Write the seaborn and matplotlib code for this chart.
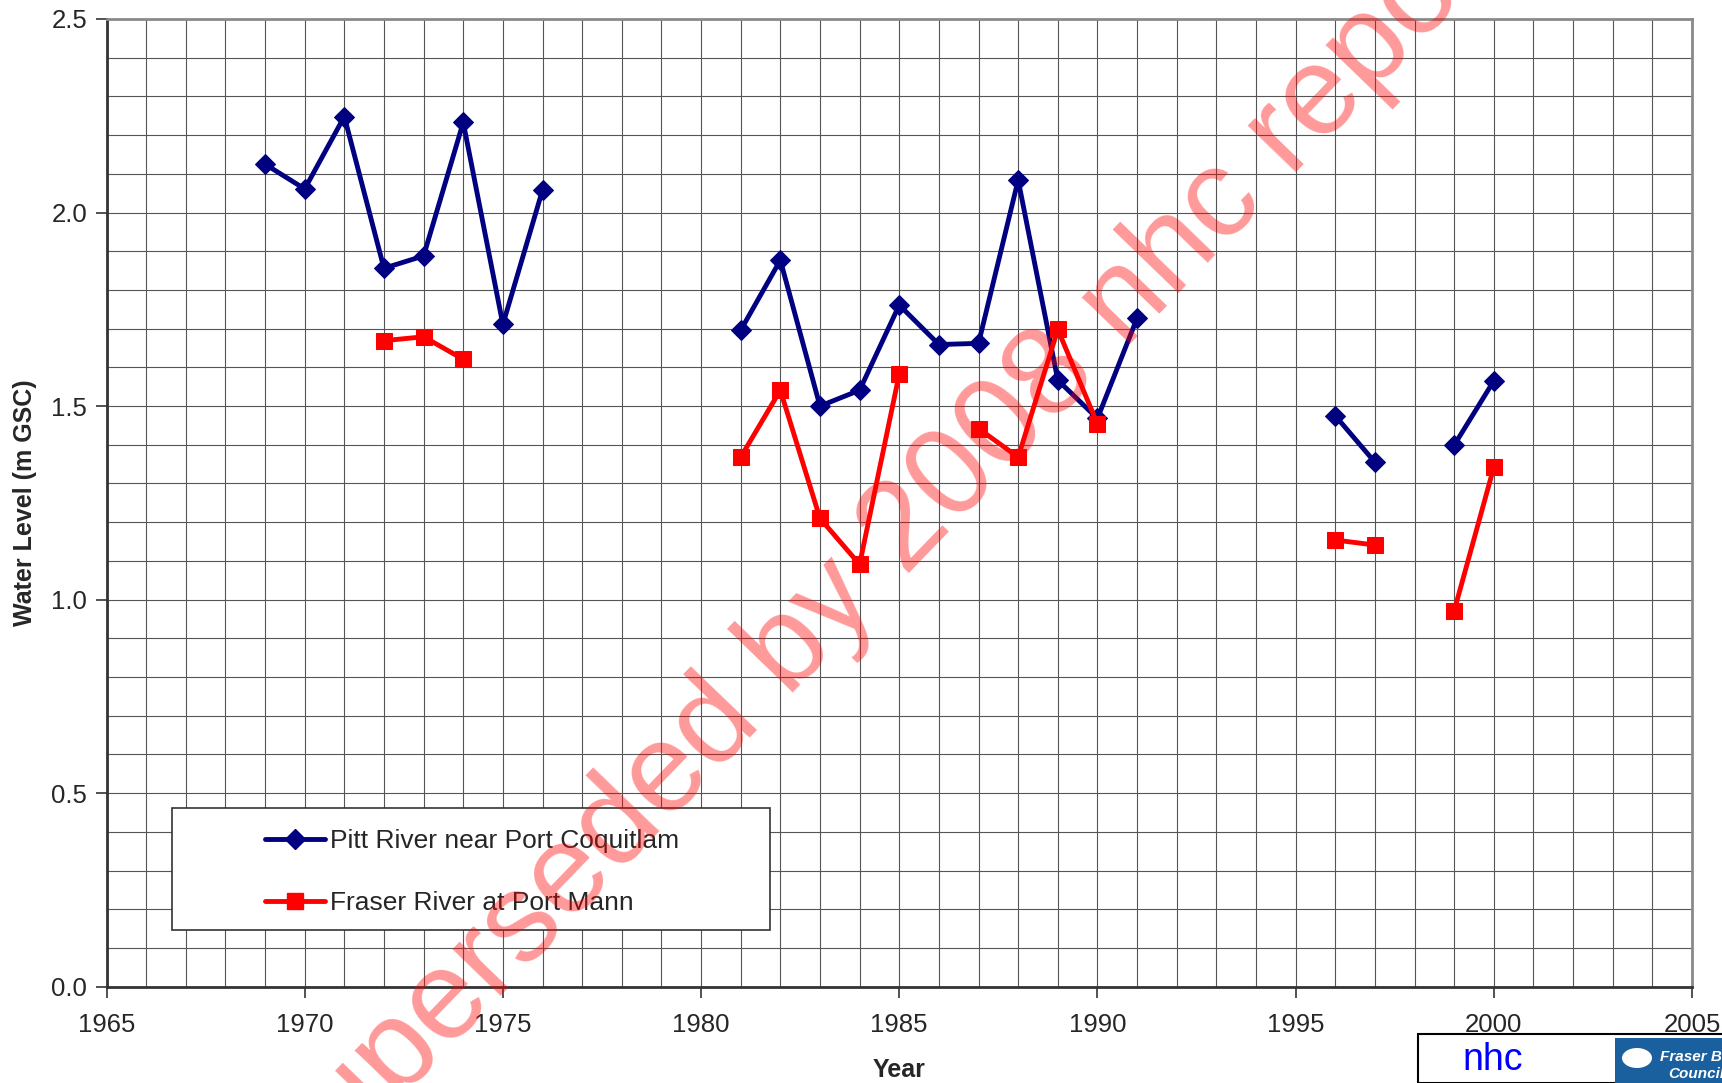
import numpy as np
import pandas as pd
import matplotlib
matplotlib.use("Agg")
import matplotlib.pyplot as plt
import seaborn as sns
from matplotlib.lines import Line2D
from matplotlib.patches import Rectangle, Ellipse
from matplotlib.ticker import MultipleLocator

nan = np.nan
years = list(range(1969, 2001))
pitt = [2.125, 2.061, 2.248, 1.856, 1.888, 2.233, 1.711, 2.058,
        nan, nan, nan, nan,
        1.696, 1.877, 1.500, 1.541, 1.761, 1.659, 1.662, 2.084, 1.567, 1.468, 1.727,
        nan, nan, nan, nan,
        1.475, 1.355, nan, 1.399, 1.565]
fraser = [nan, nan, nan, 1.669, 1.679, 1.621, nan, nan,
          nan, nan, nan, nan,
          1.368, 1.541, 1.210, 1.091, 1.583, nan, 1.442, 1.368, 1.698, 1.454, nan,
          nan, nan, nan, nan,
          1.154, 1.141, nan, 0.971, 1.342]
series_names = ["Pitt River near Port Coquitlam", "Fraser River at Port Mann"]
x_label = "Year"
y_label = "Water Level (m GSC)"
watermark = "Superseded by 2008 nhc report"


def to_long(name, vals):
    rows = []
    seg = 0
    prev_nan = True
    for yr, v in zip(years, vals):
        if np.isnan(v):
            prev_nan = True
            continue
        if prev_nan:
            seg += 1
        prev_nan = False
        rows.append({"Year": yr, "Level": v, "series": name, "seg": f"{name}-{seg}"})
    return pd.DataFrame(rows)


df = pd.concat([to_long(series_names[0], pitt), to_long(series_names[1], fraser)],
               ignore_index=True)

sns.set_style("white")
plt.rcParams["font.family"] = ["Liberation Sans", "DejaVu Sans"]

W, H = 1722, 1083
fig = plt.figure(figsize=(W / 100, H / 100), dpi=100)
ax = fig.add_axes([106.5 / W, 1 - 986.7 / H, (1692 - 106.5) / W, (986.7 - 19) / H])

colors = {series_names[0]: "#000080", series_names[1]: "#ff0000"}
markers = {series_names[0]: "D", series_names[1]: "s"}
msizes = {series_names[0]: 10.5, series_names[1]: 11}
LW = 3.5

for name in series_names:
    sub = df[df["series"] == name]
    sns.lineplot(data=sub, x="Year", y="Level", units="seg", estimator=None,
                 color=colors[name], marker=markers[name], markersize=msizes[name],
                 markeredgecolor=colors[name], linewidth=LW, ax=ax, legend=False,
                 zorder=5)

ax.set_xlim(1965, 2005)
ax.set_ylim(0, 2.5)
ax.xaxis.set_major_locator(MultipleLocator(5))
ax.xaxis.set_minor_locator(MultipleLocator(1))
ax.yaxis.set_major_locator(MultipleLocator(0.5))
ax.yaxis.set_minor_locator(MultipleLocator(0.1))
ax.yaxis.set_major_formatter(matplotlib.ticker.FormatStrFormatter("%.1f"))
ax.grid(True, which="both", color="#555555", linewidth=0.8)
ax.set_axisbelow(True)
ax.tick_params(axis="both", which="major", direction="out", length=8, width=1.2,
               color="#333333", labelsize=18.5, bottom=True, left=True)
ax.tick_params(axis="x", which="major", pad=11)
ax.tick_params(axis="y", which="major", pad=6)
ax.tick_params(axis="both", which="minor", length=0)

for s in ["left", "bottom"]:
    ax.spines[s].set_color("#333333")
    ax.spines[s].set_linewidth(2)
for s in ["top", "right"]:
    ax.spines[s].set_color("#8a8a8a")
    ax.spines[s].set_linewidth(2)

ax.set_xlabel(x_label, fontsize=18, fontweight="bold", labelpad=15)
ax.set_ylabel(y_label, fontsize=18, fontweight="bold", labelpad=10)

# legend box
ax.add_patch(Rectangle((172 / W, 1 - 930 / H), (770 - 172) / W, (930 - 808) / H,
                       transform=fig.transFigure, facecolor="white",
                       edgecolor="#333333", linewidth=1.2, zorder=6))
handles = [Line2D([0], [0], color=colors[n], marker=markers[n], markersize=msizes[n],
                  linewidth=LW) for n in series_names]
leg = ax.legend(handles, series_names, loc="center left",
                bbox_to_anchor=(265 / W, 1 - 872 / H), bbox_transform=fig.transFigure,
                fontsize=19, frameon=False, handlelength=2.27, handletextpad=0.2,
                borderpad=0, labelspacing=1.45, borderaxespad=0)
leg.set_zorder(7)

# watermark
fig.text(905 / W, 1 - 577 / H, watermark, rotation=46, rotation_mode="anchor",
         ha="center", va="baseline", fontsize=91, color="#ff0000", alpha=0.4,
         zorder=20)

# bottom-right logos
fig.patches.append(Rectangle((1418 / W, 0), (W - 1418) / W + 0.01,
                             (H - 1034) / H, transform=fig.transFigure,
                             facecolor="white", edgecolor="black", linewidth=1.5,
                             zorder=10))
fig.text(1493 / W, 1 - 1060 / H, "nhc", color="#0000ff", fontsize=27,
         ha="center", va="center", zorder=11)
fig.patches.append(Rectangle((1615 / W, 0), (W - 1615) / W,
                             (H - 1038) / H, transform=fig.transFigure,
                             facecolor="#1a5f9e", edgecolor="none", zorder=11))
fig.patches.append(Ellipse((1637 / W, 1 - 1058 / H), 30 / W, 20 / H,
                           transform=fig.transFigure, facecolor="white",
                           edgecolor="none", zorder=12))
fig.text(1660 / W, 1 - 1057 / H, "Fraser Basin", color="white", fontsize=11,
         fontweight="bold", fontstyle="italic", ha="left", va="center", zorder=12)
fig.text(1668 / W, 1 - 1074 / H, "Council", color="white", fontsize=11,
         fontweight="bold", fontstyle="italic", ha="left", va="center", zorder=12)

fig.savefig("out.png", dpi=100)
